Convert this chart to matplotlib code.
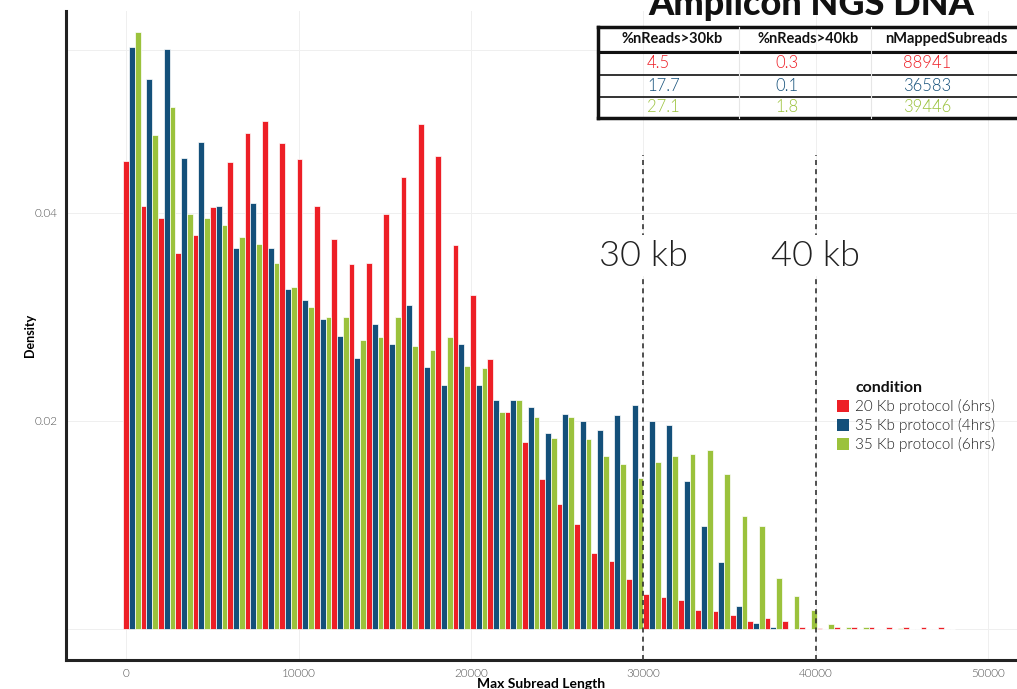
import matplotlib
matplotlib.use('Agg')
import matplotlib.pyplot as plt
import numpy as np
from matplotlib.patches import Rectangle
from matplotlib.lines import Line2D

plt.rcParams['font.family'] = ['Lato', 'DejaVu Sans']

W, H = 1017, 689

# histogram bins (max subread length)
bin_start = -186
bin_width = 1006
n_bins = 48

conditions = ['20 Kb protocol (6hrs)', '35 Kb protocol (4hrs)', '35 Kb protocol (6hrs)']
colors = ['#ED1F26', '#14507A', '#9BC23C']

dens_20kb_6h = [0.0450, 0.0407, 0.0395, 0.0362, 0.0379, 0.0406, 0.0449, 0.0477, 0.0488, 0.0467,
                0.0452, 0.0407, 0.0375, 0.0351, 0.0352, 0.0399, 0.0435, 0.0486, 0.0455, 0.0369,
                0.0321, 0.0260, 0.0209, 0.0180, 0.0144, 0.0120, 0.0101, 0.0073, 0.0065, 0.0048,
                0.0034, 0.0031, 0.0028, 0.0018, 0.0017, 0.0013, 0.0008, 0.0011, 0.0008, 0.0002,
                0.0001, 0.0002, 0.0002, 0.0002, 0.0002, 0.0002, 0.0002, 0.0002]
dens_35kb_4h = [0.0560, 0.0529, 0.0558, 0.0453, 0.0468, 0.0407, 0.0366, 0.0410, 0.0366, 0.0327,
                0.0316, 0.0298, 0.0282, 0.0261, 0.0293, 0.0274, 0.0312, 0.0252, 0.0235, 0.0274,
                0.0235, 0.0220, 0.0220, 0.0213, 0.0188, 0.0207, 0.0200, 0.0191, 0.0206, 0.0215,
                0.0200, 0.0196, 0.0142, 0.0099, 0.0064, 0.0022, 0.0006, 0.0002, 0, 0,
                0, 0, 0, 0, 0, 0, 0, 0]
dens_35kb_6h = [0.0574, 0.0475, 0.0502, 0.0399, 0.0395, 0.0388, 0.0377, 0.0370, 0.0352, 0.0329,
                0.0310, 0.0300, 0.0300, 0.0278, 0.0281, 0.0300, 0.0272, 0.0268, 0.0281, 0.0253,
                0.0251, 0.0209, 0.0220, 0.0204, 0.0184, 0.0204, 0.0183, 0.0166, 0.0159, 0.0145,
                0.0161, 0.0166, 0.0168, 0.0172, 0.0149, 0.0109, 0.0099, 0.0049, 0.0032, 0.0018,
                0.0005, 0.0002, 0.0002, 0, 0.0001, 0, 0, 0]
densities = [dens_20kb_6h, dens_35kb_4h, dens_35kb_6h]

cutoffs = [30000, 40000]
cutoff_labels = ['30 kb', '40 kb']

table_cols = ['%nReads>30kb', '%nReads>40kb', 'nMappedSubreads']
pct_30kb = ['4.5', '17.7', '27.1']
pct_40kb = ['0.3', '0.1', '1.8']
n_mapped = ['88941', '36583', '39446']


def fx(px):
    return px / W


def fy(py):
    return 1 - py / H


fig = plt.figure(figsize=(W / 100, H / 100), dpi=100)
ax = fig.add_axes([fx(66), 29 / H, fx(W - 66), (660 - 11) / H])

edges = bin_start + bin_width * np.arange(n_bins)
w3 = bin_width / 3
for i in range(3):
    ax.bar(edges + i * w3, densities[i], width=w3, align='edge', color=colors[i],
           edgecolor='white', linewidth=0.5, zorder=2)

ax.set_xlim(-3511, 51683)
ax.set_ylim(-0.00298, 0.05942)

ax.set_xticks([0, 10000, 20000, 30000, 40000, 50000])
ax.set_yticks([0.02, 0.04])
ax.set_yticklabels(['0.02', '0.04'])
ax.set_yticks([0.0, 0.0557], minor=True)
ax.grid(True, which='both', color='#efefef', linewidth=0.7, zorder=0)
ax.set_axisbelow(True)
ax.tick_params(axis='both', which='both', length=0, labelsize=8.5, labelcolor='#555555', pad=6)
for lab in ax.get_xticklabels() + ax.get_yticklabels():
    lab.set_fontweight(300)

for s in ['top', 'right']:
    ax.spines[s].set_visible(False)
for s in ['left', 'bottom']:
    ax.spines[s].set_color('#222222')
    ax.spines[s].set_linewidth(2.2)

ax.set_xlabel('Max Subread Length', fontsize=10, fontweight='bold', labelpad=-1)
ax.set_ylabel('Density', fontsize=9, fontweight='bold', labelpad=-1)

# cutoff lines and labels
ax.vlines(cutoffs, -0.00298, 0.0456, colors='#333333', linestyles=(0, (3, 2.5)),
          linewidth=1.2, zorder=3)
for c, lab in zip(cutoffs, cutoff_labels):
    ax.text(c, 0.0359, lab, fontsize=26, fontweight=300, color='#222222',
            ha='center', va='center', zorder=4,
            bbox=dict(boxstyle='square,pad=0.12', facecolor='white', edgecolor='none'))

# legend
fig.text(fx(855), fy(388), 'condition', fontsize=11.5, fontweight='bold',
         color='#111111', ha='left', va='center')
for i, lab in enumerate(conditions):
    yc = 406 + 19 * i
    fig.patches.append(Rectangle((fx(837), fy(yc + 6)), 12 / W, 12 / H,
                                 transform=fig.transFigure, facecolor=colors[i],
                                 edgecolor='none'))
    fig.text(fx(855), fy(yc), lab, fontsize=11, fontweight=300, color='#222222',
             ha='left', va='center')

# summary table
tl, tr = 598, 1030
for yy, lw in [(27, 2.5), (52, 2.2), (75, 1.2), (97, 1.2), (118, 2.5)]:
    fig.add_artist(Line2D([fx(tl), fx(tr)], [fy(yy), fy(yy)], color='#111111', linewidth=lw))
fig.add_artist(Line2D([fx(tl), fx(tl)], [fy(27), fy(118)], color='#111111', linewidth=2.5))
for xx in [739, 871]:
    fig.add_artist(Line2D([fx(xx), fx(xx)], [fy(27), fy(118)], color='#e6e6e6', linewidth=0.8))
for xc, col in zip([672, 808, 946], table_cols):
    fig.text(fx(xc), fy(39), col, fontsize=10.5, fontweight='bold', color='#111111',
             ha='center', va='center')
for r in range(3):
    yc = [63, 86, 107][r]
    for xl, vals in zip([647, 775, 903], [pct_30kb, pct_40kb, n_mapped]):
        fig.text(fx(xl), fy(yc), vals[r], fontsize=12, fontweight=300, color=colors[r],
                 ha='left', va='center')

fig.text(fx(811), fy(15), 'Amplicon NGS DNA', fontsize=26, fontweight='black',
         color='#111111', ha='center', va='baseline')

fig.savefig('out.png', dpi=100)
